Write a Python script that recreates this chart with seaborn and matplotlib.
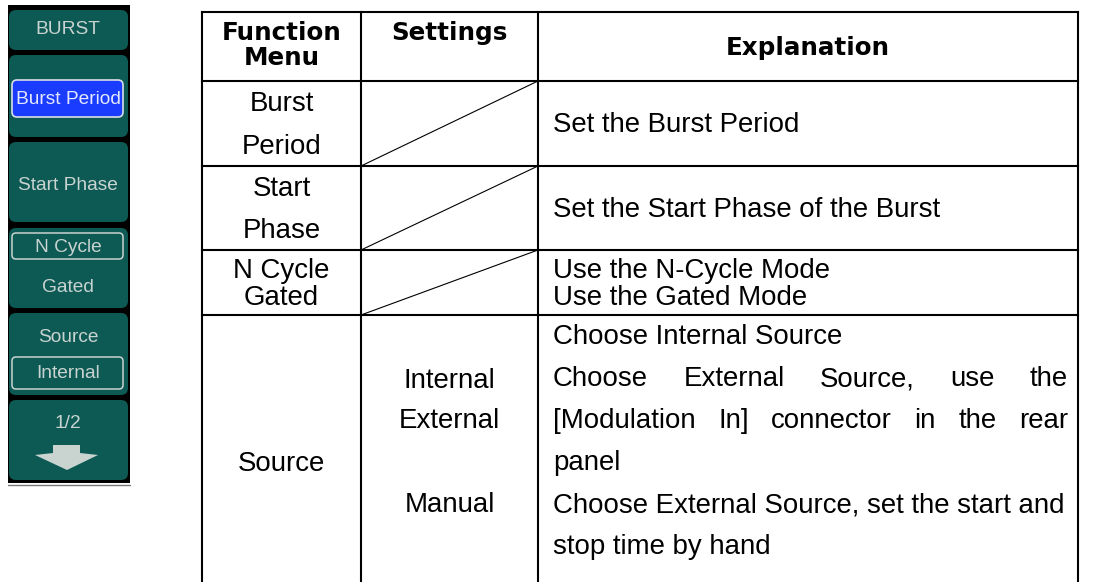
import matplotlib
matplotlib.use("Agg")
import matplotlib.pyplot as plt
import seaborn as sns
from matplotlib.patches import FancyBboxPatch, Rectangle, Polygon

sns.set_theme(style="white")
plt.rcParams['font.family'] = ['Liberation Sans', 'DejaVu Sans']

# ---------------- data ----------------
header_labels = ["Function\nMenu", "Settings", "Explanation"]
menu_items = ["Burst\nPeriod", "Start\nPhase", "N Cycle\nGated", "Source"]
settings_source = ["Internal", "External", "Manual"]
explanations = [
    ["Set the Burst Period"],
    ["Set the Start Phase of the Burst"],
    ["Use the N-Cycle Mode", "Use the Gated Mode"],
    ["Choose Internal Source",
     "Choose External Source, use the",
     "[Modulation In] connector in the rear",
     "panel",
     "Choose External Source, set the start and",
     "stop time by hand"],
]
justified_lines = ["Choose External Source, use the",
                   "[Modulation In] connector in the rear"]
panel_title = "BURST"
panel_labels = ["Burst Period", "Start Phase", "N Cycle", "Gated", "Source", "Internal", "1/2"]

# ---------------- layout ----------------
W, H = 1093, 582
fig = plt.figure(figsize=(W / 100, H / 100), dpi=100)
ax = fig.add_axes([0, 0, 1, 1])
ax.set_xlim(0, W)
ax.set_ylim(H, 0)
ax.axis("off")
fig.patch.set_facecolor("white")
renderer = fig.canvas.get_renderer()

col_x = [202, 361, 538, 1078]
row_y = [12, 81, 166, 250, 315, 580]
LW = 1.5
DY = 2  # small baseline correction for body text

def fit_size(text, target, weight="normal", family=None):
    t = ax.text(0, 0, text, fontsize=10, weight=weight, family=family)
    w = t.get_window_extent(renderer).width
    t.remove()
    return 10 * target / w

body_fs = fit_size("Choose External Source, set the start and", 514)
head_fs = fit_size("Function", 120, weight="bold", family=["DejaVu Sans"])

# table grid
for x in col_x:
    ax.plot([x, x], [row_y[0], row_y[-1] + 4], color="black", lw=LW, solid_capstyle="projecting")
for y in row_y[:-1]:
    ax.plot([col_x[0], col_x[-1]], [y, y], color="black", lw=LW, solid_capstyle="projecting")
# diagonals in settings cells of first three rows
for r in range(3):
    ax.plot([col_x[1], col_x[2]], [row_y[r + 2], row_y[r + 1]], color="black", lw=0.8)

# header
c0 = (col_x[0] + col_x[1]) / 2
c1 = (col_x[1] + col_x[2]) / 2
c2 = (col_x[2] + col_x[3]) / 2
hf = dict(fontsize=head_fs, weight="bold", family=["DejaVu Sans"], ha="center", va="center", color="black")
f1, f2 = header_labels[0].split("\n")
ax.text(c0, 33, f1, **hf)
ax.text(c0, 58, f2, **hf)
ax.text(c1, 33, header_labels[1], **hf)
ax.text(c2, 48, header_labels[2], **hf)

bf = dict(fontsize=body_fs, va="center", color="black")
gaps = [43, 43, 27, 42]
for r in range(4):
    top, bot = row_y[r + 1], row_y[r + 2]
    mid = (top + bot) / 2 + DY
    lines = menu_items[r].split("\n")
    n = len(lines)
    for i, ln in enumerate(lines):
        y = mid + (i - (n - 1) / 2) * gaps[r]
        if r == 3:
            y = 464
        ax.text(c0, y, ln, ha="center", **bf)
    ex = explanations[r]
    if r < 3:
        m = len(ex)
        for i, ln in enumerate(ex):
            y = mid + (i - (m - 1) / 2) * gaps[r]
            ax.text(col_x[2] + 15, y, ln, ha="left", **bf)
    else:
        ys = [335 + DY + i * 42 for i in range(len(ex))]
        for ln, y in zip(ex, ys):
            if ln in justified_lines:
                words = ln.split()
                ts = [ax.text(0, y, w, ha="left", **bf) for w in words]
                ws = [t.get_window_extent(renderer).width for t in ts]
                x0, x1 = col_x[2] + 15, col_x[3] - 10
                g = (x1 - x0 - sum(ws)) / (len(words) - 1)
                x = x0
                for t, w in zip(ts, ws):
                    t.set_x(x)
                    x += w + g
            else:
                ax.text(col_x[2] + 15, y, ln, ha="left", **bf)
        for s, y in zip(settings_source, [381, 421, 505]):
            ax.text(c1, y, s, ha="center", **bf)

# ---------------- left panel ----------------
teal = "#0d5a55"
light = "#c9d3d0"
ax.add_patch(Rectangle((8, 5), 122, 478, color="black", lw=0))
ax.plot([8, 130], [485, 485], color="#777777", lw=1)

def button(y0, y1):
    ax.add_patch(FancyBboxPatch((9, y0), 119, y1 - y0,
                                boxstyle="round,pad=0,rounding_size=7",
                                fc=teal, ec="none"))

for y0, y1 in [(10, 50), (55, 137), (142, 222), (228, 308), (313, 395), (400, 480)]:
    button(y0, y1)

pf_size = fit_size("Burst Period", 106)
pf = dict(fontsize=pf_size, ha="center", va="center", color=light)
cx = 68
ax.text(cx, 30, panel_title, **pf)
# highlighted Burst Period
ax.add_patch(FancyBboxPatch((12, 80), 111, 37, boxstyle="round,pad=0,rounding_size=5",
                            fc="#1a3cff", ec="#d8dde8", lw=1.2))
ax.text(cx, 99, panel_labels[0], **{**pf, "color": "#e4e8ff"})
ax.text(cx, 185, panel_labels[1], **pf)
# N Cycle boxed
ax.add_patch(FancyBboxPatch((12, 233), 111, 26, boxstyle="round,pad=0,rounding_size=4",
                            fc=teal, ec=light, lw=1.1))
ax.text(cx, 247, panel_labels[2], **pf)
ax.text(cx, 287, panel_labels[3], **pf)
ax.text(cx, 337, panel_labels[4], **pf)
ax.add_patch(FancyBboxPatch((12, 357), 111, 32, boxstyle="round,pad=0,rounding_size=4",
                            fc=teal, ec=light, lw=1.1))
ax.text(cx, 373, panel_labels[5], **pf)
ax.text(cx, 423, panel_labels[6], **pf)
# down arrow
ax.add_patch(Polygon([(53, 445), (80, 445), (80, 453), (98, 455), (67, 470),
                      (35, 455), (53, 453)], closed=True, fc=light, ec="none"))

fig.savefig("out.png", dpi=100, facecolor="white")
